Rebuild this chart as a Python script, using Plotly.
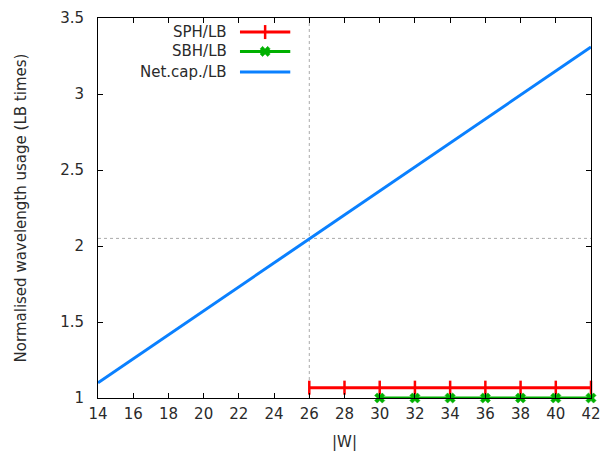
import plotly.graph_objects as go

# Data
w_net = [14, 16, 18, 20, 22, 24, 26, 28, 30, 32, 34, 36, 38, 40, 42]
net_cap = [1.100, 1.258, 1.416, 1.573, 1.731, 1.889, 2.047, 2.205, 2.362, 2.520, 2.678, 2.836, 2.994, 3.151, 3.309]
w_sph = [26, 28, 30, 32, 34, 36, 38, 40, 42]
sph = [1.068] * 9
w_sbh = [30, 32, 34, 36, 38, 40, 42]
sbh = [1.0] * 7
x_ticks = list(range(14, 43, 2))
y_ticks = [1, 1.5, 2, 2.5, 3, 3.5]
ref_x = 26
ref_y = 2.05

RED = "#ff0000"
GREEN = "#00b000"
BLUE = "#0a80ff"
FONT = "DejaVu Sans"
TXT = "#2a2a2a"
FS = 15

fig = go.Figure()

fig.add_trace(go.Scatter(x=w_net, y=net_cap, mode="lines",
                         line=dict(color=BLUE, width=3), showlegend=False, cliponaxis=False))
fig.add_trace(go.Scatter(x=w_sph, y=sph, mode="lines+markers",
                         line=dict(color=RED, width=3),
                         marker=dict(symbol="line-ns", size=10, line=dict(color=RED, width=2.5)),
                         showlegend=False, cliponaxis=False))
fig.add_trace(go.Scatter(x=w_sbh, y=sbh, mode="lines+markers",
                         line=dict(color=GREEN, width=3),
                         marker=dict(symbol="x", size=9, color=GREEN, line=dict(color=GREEN, width=0.5)),
                         showlegend=False, cliponaxis=False))

# reference dotted lines
fig.add_shape(type="line", x0=ref_x, x1=ref_x, y0=0, y1=1, xref="x", yref="paper",
              line=dict(color="#aaaaaa", width=1, dash="dot"), layer="below")
fig.add_shape(type="line", x0=0, x1=1, y0=ref_y, y1=ref_y, xref="paper", yref="y",
              line=dict(color="#aaaaaa", width=1, dash="dot"), layer="below")

# Gnuplot-style legend on an overlay axis (text left, sample right)
leg_names = ["SPH/LB", "SBH/LB", "Net.cap./LB"]
leg_colors = [RED, GREEN, BLUE]
leg_symbols = ["line-ns", "x", None]
leg_y = [0.963, 0.912, 0.858]
for name, col, sym, yy in zip(leg_names, leg_colors, leg_symbols, leg_y):
    fig.add_trace(go.Scatter(x=[0.288, 0.39], y=[yy, yy], xaxis="x2", yaxis="y2",
                             mode="lines", line=dict(color=col, width=3),
                             showlegend=False, hoverinfo="skip"))
    if sym:
        mk = dict(symbol=sym, size=10 if sym == "line-ns" else 9, color=col,
                  line=dict(color=col, width=2.5 if sym == "line-ns" else 0.5))
        fig.add_trace(go.Scatter(x=[0.339], y=[yy], xaxis="x2", yaxis="y2",
                                 mode="markers", marker=mk, showlegend=False, hoverinfo="skip"))
    fig.add_annotation(x=0.265, y=yy, xref="x2", yref="y2", text=name, showarrow=False,
                       xanchor="right", yanchor="middle",
                       font=dict(family=FONT, size=FS, color=TXT))

axis_common = dict(showline=True, linecolor="black", linewidth=1, mirror="ticks",
                   ticks="inside", ticklen=5, tickcolor="black", showgrid=False,
                   zeroline=False, ticklabeloverflow="allow", automargin=False,
                   tickfont=dict(family=FONT, size=FS, color=TXT))

fig.update_layout(
    width=600, height=454,
    margin=dict(l=98, r=9, t=18, b=56),
    paper_bgcolor="white", plot_bgcolor="white",
    xaxis=dict(range=[14, 42], tickvals=x_ticks, ticktext=[str(v) for v in x_ticks],
               ticklabelstandoff=2,
               title=dict(text="|W|", font=dict(family=FONT, size=FS, color=TXT), standoff=14),
               **axis_common),
    yaxis=dict(range=[1, 3.5], tickvals=y_ticks, ticktext=["1", "1.5", "2", "2.5", "3", "3.5"],
               ticklabelstandoff=10,
               title=dict(text="Normalised wavelength usage (LB times)",
                          font=dict(family=FONT, size=FS, color=TXT), standoff=29),
               **axis_common),
    xaxis2=dict(range=[0, 1], overlaying="x", visible=False, fixedrange=True),
    yaxis2=dict(range=[0, 1], overlaying="y", visible=False, fixedrange=True),
)

fig.write_html("out.html", config={"displayModeBar": False},
               post_script="document.body.style.margin='0';")
